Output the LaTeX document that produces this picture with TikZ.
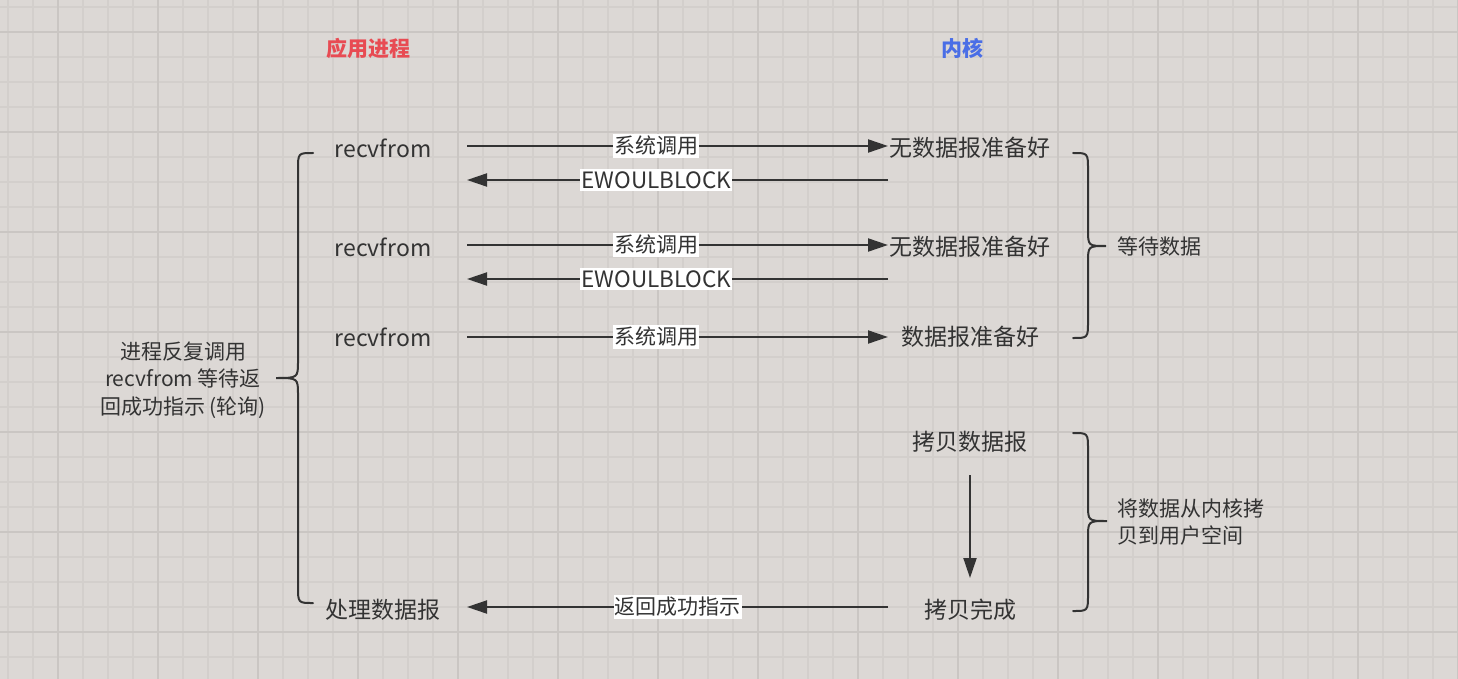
\documentclass[tikz,border=0pt]{standalone}
\usepackage{fontspec}
\setmainfont{Noto Sans CJK SC}
\usetikzlibrary{arrows.meta}
\definecolor{bg}{HTML}{DCD8D5}
\definecolor{gminor}{HTML}{D3CFCC}
\definecolor{gmajor}{HTML}{CAC6C3}
\definecolor{ink}{HTML}{333333}
\definecolor{hred}{HTML}{E84B53}
\definecolor{hblue}{HTML}{4A6EE6}
\tikzset{
  txt/.style={inner sep=0pt, text=ink, font=\fontsize{23}{27}\selectfont},
  side/.style={inner sep=0pt, text=ink, font=\fontsize{21}{27.5}\selectfont, align=center},
  head/.style={inner sep=0pt, font=\fontsize{21}{25}\selectfont\bfseries},
  lbl/.style={fill=white, inner xsep=1pt, inner ysep=2pt, text=ink, font=\fontsize{21}{24}\selectfont},
  lbllat/.style={lbl, font=\fontsize{22.5}{24}\selectfont},
  conn/.style={draw=ink, line width=2pt, -{Triangle[length=20pt,width=13pt]}},
  brace/.style={draw=ink, line width=2pt, line cap=round}
}
\begin{document}
\begin{tikzpicture}[x=1pt,y=-1pt]
\useasboundingbox (0,0) rectangle (1458,679);
\fill[bg] (0,0) rectangle (1458,679);
\foreach \i in {0,...,58} {\draw[gminor,line width=1.5pt] ({8+25*\i},0) -- ({8+25*\i},679);}
\foreach \i in {0,...,27} {\draw[gminor,line width=1.5pt] (0,{7+25*\i}) -- (1458,{7+25*\i});}
\foreach \i in {0,...,14} {\draw[gmajor,line width=2pt] ({58+100*\i},0) -- ({58+100*\i},679);}
\foreach \i in {0,...,6} {\draw[gmajor,line width=2pt] (0,{32+100*\i}) -- (1458,{32+100*\i});}

% headers
\node[head,text=hred] (hA) at (368,48) {应用进程};
\node[head,text=hblue] (hK) at (962,48) {内核};

% left column
\node[txt] (r1) at (383,148) {recvfrom};
\node[txt] (r2) at (383,247) {recvfrom};
\node[txt] (r3) at (383,337) {recvfrom};
\node[txt] (p) at (383,610) {处理数据报};

% right column
\node[txt] (k1) at (970,148) {无数据报准备好};
\node[txt] (k2) at (970,247) {无数据报准备好};
\node[txt] (k3) at (970,337) {数据报准备好};
\node[txt] (c1) at (970,442) {拷贝数据报};
\node[txt] (c2) at (970,610) {拷贝完成};

% connector end points
\coordinate (a1s) at (467,146); \coordinate (a1e) at (888,146);
\coordinate (b1s) at (888,180); \coordinate (b1e) at (467,180);
\coordinate (a2s) at (467,245); \coordinate (a2e) at (888,245);
\coordinate (b2s) at (888,279); \coordinate (b2e) at (467,279);
\coordinate (a3s) at (467,337); \coordinate (a3e) at (888,337);
\coordinate (vs) at (970,475); \coordinate (ve) at (970,578);
\coordinate (rs) at (888,607); \coordinate (re) at (467,607);

\draw[conn] (a1s) -- (a1e) node[lbl,pos=0.45] {系统调用};
\draw[conn] (b1s) -- (b1e) node[lbllat,pos=0.55] {EWOULBLOCK};
\draw[conn] (a2s) -- (a2e) node[lbl,pos=0.45] {系统调用};
\draw[conn] (b2s) -- (b2e) node[lbllat,pos=0.55] {EWOULBLOCK};
\draw[conn] (a3s) -- (a3e) node[lbl,pos=0.45] {系统调用};
\draw[conn] (vs) -- (ve);
\draw[conn] (rs) -- (re) node[lbl,pos=0.50] {返回成功指示};

% right brace 1
\draw[brace] (1073,153) .. controls (1088,153) .. (1088,170) -- (1088,229)
  .. controls (1088,246) .. (1106,246) .. controls (1088,246) .. (1088,263)
  -- (1088,321) .. controls (1088,338) .. (1073,338);
\node[side,anchor=west] (w1) at (1117,246) {等待数据};

% right brace 2
\draw[brace] (1073,433) .. controls (1088,433) .. (1088,450) -- (1088,504)
  .. controls (1088,521) .. (1107,521) .. controls (1088,521) .. (1088,538)
  -- (1088,594) .. controls (1088,611) .. (1073,611);
\node[side,anchor=west,align=left] (w2) at (1117,522) {将数据从内核拷\\贝到用户空间};

% left brace
\draw[brace] (313,153) .. controls (298,153) .. (298,170) -- (298,361)
  .. controls (298,378) .. (276,378) .. controls (298,378) .. (298,395)
  -- (298,586) .. controls (298,603) .. (313,603);
\node[side] (w3) at (183,380) {进程反复调用\\recvfrom 等待返\\回成功指示 (轮询)};
\end{tikzpicture}
\end{document}
